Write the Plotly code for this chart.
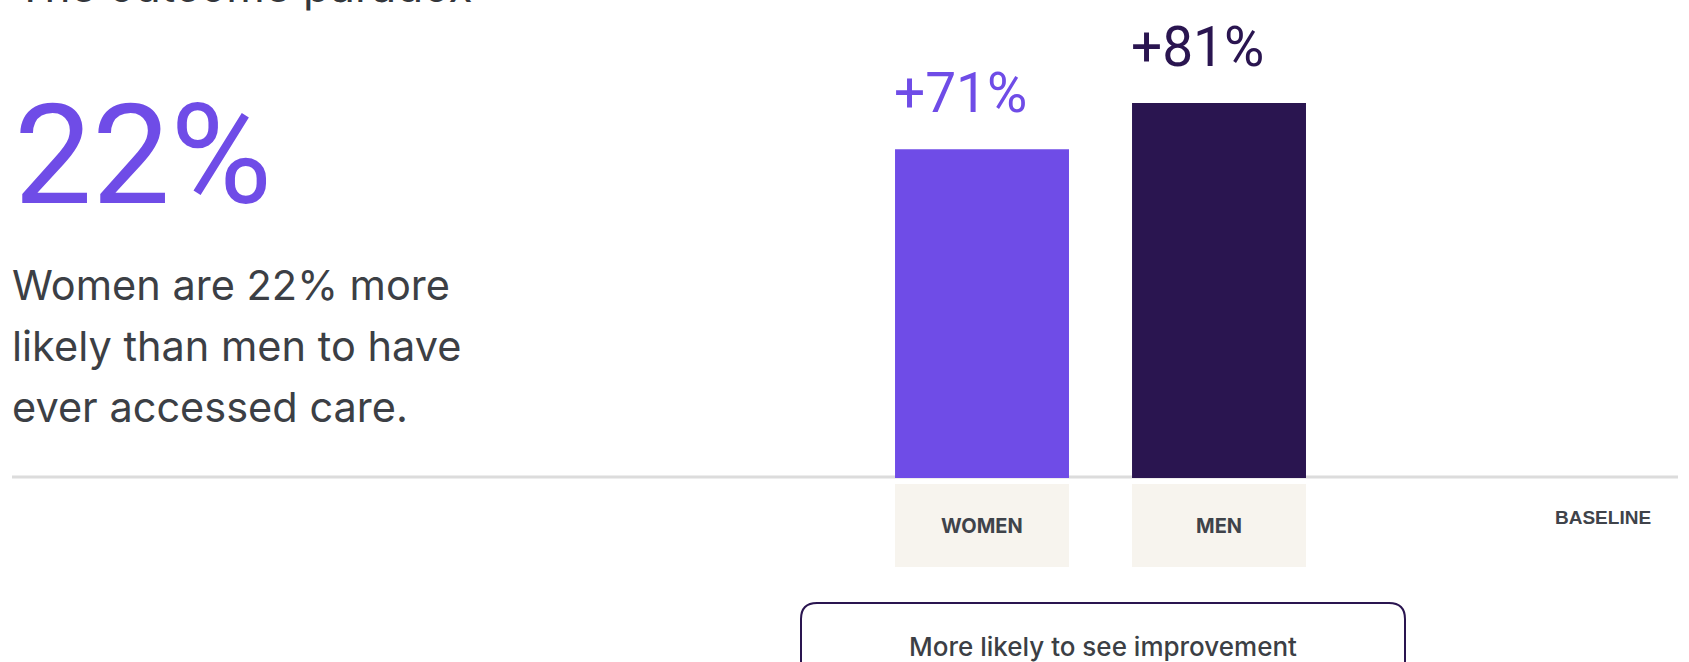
import plotly.graph_objects as go

# Canvas size in pixels
W, H = 1689, 662

# ---- data ----
categories = ["WOMEN", "MEN"]
improvement = [71, 81]          # % more likely to see improvement vs. baseline
bar_colors = ["#6F4CE7", "#2A1550"]
headline_value = 22             # % more likely to have ever accessed care
title_text = "The outcome paradox"
body_lines = ["Women are 22% more", "likely than men to have", "ever accessed care."]
baseline_label = "BASELINE"
legend_text = "More likely to see improvement"

TEXT = "#3C3F45"
FONT = "Inter"
NUM_FONT = "Roboto"


def px(x):
    """pixel x -> paper x"""
    return x / W


def py(y):
    """pixel y (from top) -> paper y"""
    return 1 - y / H


BAR_W = 0.734
x_pos = list(range(len(categories)))

fig = go.Figure()
fig.add_trace(go.Bar(
    x=x_pos, y=improvement, width=BAR_W,
    marker=dict(color=bar_colors, line=dict(width=0)),
    hoverinfo="skip",
))

# ---- layout ----
fig.update_layout(
    width=W, height=H,
    margin=dict(l=0, r=0, t=0, b=0),
    paper_bgcolor="white", plot_bgcolor="white",
    showlegend=False,
    xaxis=dict(range=[-4.1435, 2.9831], visible=False, fixedrange=True),
    yaxis=dict(range=[-39.74, 103.24], visible=False, fixedrange=True),
    font=dict(family=FONT, color=TEXT),
)

shapes = []
# baseline rule
shapes.append(dict(type="line", xref="paper", yref="paper",
                   x0=px(12), x1=px(1678), y0=py(477), y1=py(477),
                   line=dict(color="#DCDCDC", width=3), layer="below"))
# category label tiles under the bars
for i in x_pos:
    shapes.append(dict(type="rect", xref="x", yref="paper",
                       x0=i - BAR_W / 2, x1=i + BAR_W / 2,
                       y0=py(567), y1=py(484),
                       fillcolor="#F7F4EE", line=dict(width=0), layer="below"))
# rounded legend box (runs off the bottom edge)
x0, x1, y0, y1, r = 801, 1405, 603, 720, 16
path = (f"M {px(x0)},{py(y1)} L {px(x0)},{py(y0 + r)} "
        f"Q {px(x0)},{py(y0)} {px(x0 + r)},{py(y0)} "
        f"L {px(x1 - r)},{py(y0)} "
        f"Q {px(x1)},{py(y0)} {px(x1)},{py(y0 + r)} "
        f"L {px(x1)},{py(y1)}")
shapes.append(dict(type="path", xref="paper", yref="paper", path=path,
                   line=dict(color="#2A1550", width=2)))
fig.update_layout(shapes=shapes)

ann = []
# title (partly cut by the top edge)
ann.append(dict(text=title_text, xref="paper", yref="paper",
                x=px(14), y=py(15), xanchor="left", yanchor="bottom",
                showarrow=False, font=dict(size=44, color="#33363B")))
# headline figure
ann.append(dict(text=f"{headline_value}%", xref="paper", yref="paper",
                x=px(12), y=py(239), xanchor="left", yanchor="bottom",
                showarrow=False,
                font=dict(family=NUM_FONT, size=139, color=bar_colors[0])))
# body copy
for line, base in zip(body_lines, [301, 362, 423]):
    ann.append(dict(text=line, xref="paper", yref="paper",
                    x=px(10), y=py(base + 11), xanchor="left", yanchor="bottom",
                    showarrow=False, font=dict(size=41.5, color=TEXT)))
# value labels above bars
for i, v, c in zip(x_pos, improvement, bar_colors):
    ann.append(dict(text=f"+{v}%", xref="x", yref="y",
                    x=i - BAR_W / 2, y=v, xanchor="left", yanchor="bottom",
                    yshift=22, xshift=-3,
                    showarrow=False,
                    font=dict(family=NUM_FONT, size=55, color=c)))
# category labels
for i, cat in zip(x_pos, categories):
    ann.append(dict(text=f"<b>{cat}</b>", xref="x", yref="paper",
                    x=i, y=py(526), xanchor="center", yanchor="middle",
                    showarrow=False, font=dict(size=20, color="#3F434A")))
# baseline label
ann.append(dict(text=f"<b>{baseline_label}</b>", xref="paper", yref="paper",
                x=px(1603), y=py(517), xanchor="center", yanchor="middle",
                showarrow=False,
                font=dict(family="Liberation Sans", size=19, color="#3F434A")))
# legend caption
ann.append(dict(text=legend_text, xref="paper", yref="paper",
                x=px(1103), y=py(664), xanchor="center", yanchor="bottom",
                showarrow=False, font=dict(size=26, color=TEXT, weight=500)))
fig.update_layout(annotations=ann)

fig.write_html("out.html", config=dict(displayModeBar=False))
